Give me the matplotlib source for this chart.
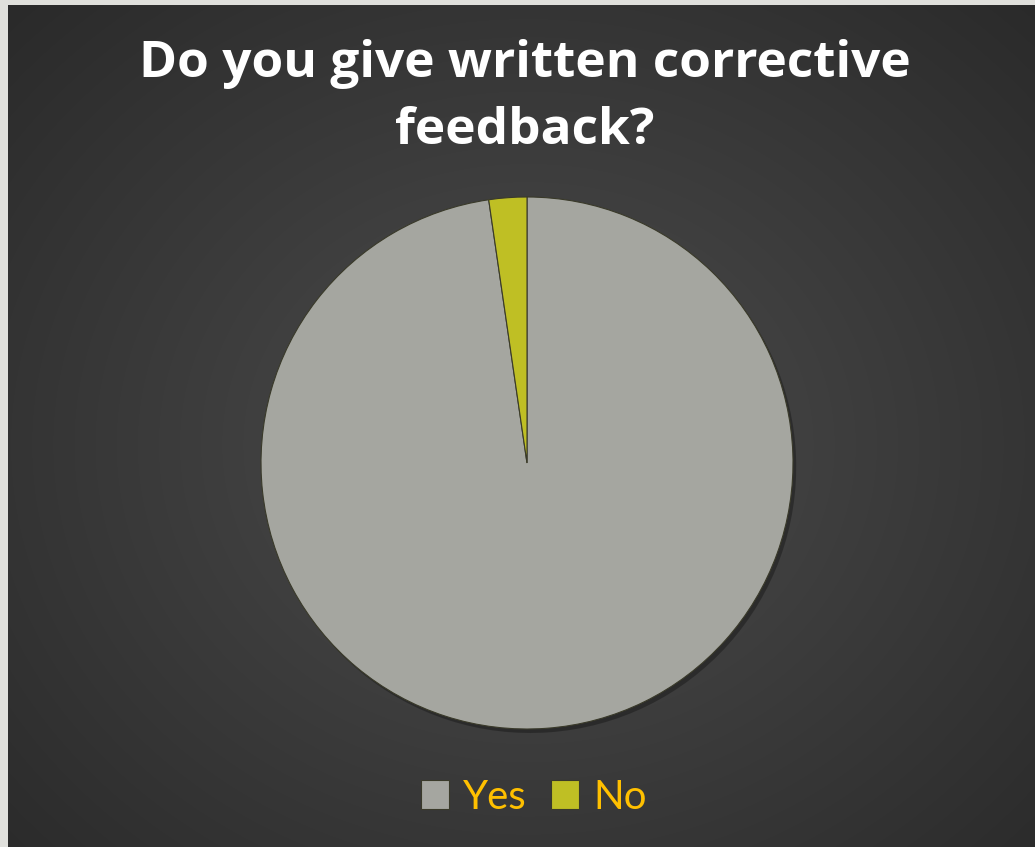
import numpy as np
import matplotlib.pyplot as plt

labels = ['Yes', 'No']
values = [97.7, 2.3]
colors = ['#a5a6a0', '#bfbf24']

W, H = 1035, 847
fig = plt.figure(figsize=(W / 100, H / 100), dpi=100)
fig.patch.set_facecolor('#e0e0dc')

# dark radial gradient background
bg = fig.add_axes([8 / W, 0, 1 - 8 / W, 1 - 5 / H])
yy, xx = np.mgrid[0:842, 0:1027]
d = np.hypot((xx - 520) / 700, (yy - 440) / 600)
shade = np.clip(0.30 - 0.13 * d, 0.15, 0.30)
bg.imshow(np.dstack([shade] * 3), aspect='auto', extent=[0, 1, 0, 1])
bg.axis('off')

# pie with a soft shadow
cx, cy, r = 527, 463, 266
ax = fig.add_axes([(cx - r) / W, (H - cy - r) / H, 2 * r / W, 2 * r / H])
ax.pie(values, colors=colors, startangle=90, counterclock=False, radius=1,
       center=(0.012, -0.015), wedgeprops=dict(linewidth=0))
for p in ax.patches:
    p.set_facecolor('#1a1a1a')
    p.set_alpha(0.5)
wedges, _ = ax.pie(values, colors=colors, startangle=90, counterclock=False,
                   radius=1, wedgeprops=dict(edgecolor='#3a3a2a', linewidth=0.8))
ax.set_xlim(-1, 1)
ax.set_ylim(-1, 1)
ax.set_aspect('equal')
ax.axis('off')

fig.text(525 / W, 1 - 64 / H, 'Do you give written corrective', ha='center', va='center',
         color='white', fontsize=37, fontweight='bold', family='Open Sans')
fig.text(525 / W, 1 - 131 / H, 'feedback?', ha='center', va='center',
         color='white', fontsize=37, fontweight='bold', family='Open Sans')

leg = fig.legend(wedges, labels, loc='center', bbox_to_anchor=(534 / W, 1 - 797 / H),
                 ncol=2, frameon=False, labelcolor='#ffc000',
                 handlelength=0.7, handleheight=0.7, handletextpad=0.35, columnspacing=0.6,
                 prop=dict(family='Lato', size=29))

fig.savefig('out.png', dpi=100, facecolor=fig.get_facecolor())
